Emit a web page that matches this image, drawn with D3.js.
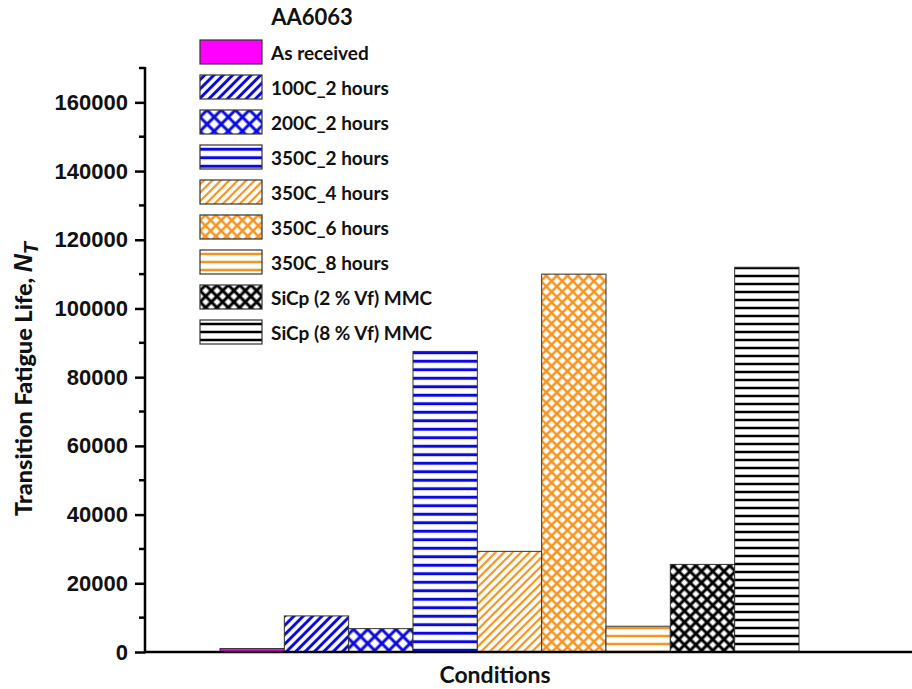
<!DOCTYPE html>
<html>
<head>
<meta charset="utf-8">
<script src="https://cdn.jsdelivr.net/npm/d3@7"></script>
<style>
  body { margin: 0; background: #fff; }
</style>
</head>
<body>
<div id="chart"></div>
<script>
// chart values
const conditions = ["As received", "100C_2 hours", "200C_2 hours", "350C_2 hours", "350C_4 hours",
    "350C_6 hours", "350C_8 hours", "SiCp (2 % Vf) MMC", "SiCp (8 % Vf) MMC"];
const lifeValues = [1000, 10500, 6800, 87500, 29300, 110000, 7500, 25500, 112000];
const yTicks = [0, 20000, 40000, 60000, 80000, 100000, 120000, 140000, 160000];
const yMinorTicks = [10000, 30000, 50000, 70000, 90000, 110000, 130000, 150000, 170000];

const width = 912, height = 689;
const plot = {left: 145, right: 912, top: 68, bottom: 652};

const blue = "#0a0ae0", orange = "#f7931e", black = "#000";

// fill style per condition (pattern type, colour, pattern size, stroke width)
const fills = [
    {type: "solid", color: "#ff00ff"},
    {type: "diag", color: blue, size: 6.6, sw: 3},
    {type: "cross", color: blue, size: 10, sw: 3},
    {type: "horiz", color: blue, size: 8.5, sw: 3},
    {type: "diag", color: orange, size: 6, sw: 2.2},
    {type: "cross", color: orange, size: 7.5, sw: 2.5},
    {type: "horiz", color: orange, size: 8, sw: 2.5},
    {type: "cross", color: black, size: 8, sw: 3},
    {type: "horiz", color: black, size: 8, sw: 2.5}
];

const svg = d3.select("#chart").append("svg")
    .attr("width", width)
    .attr("height", height);

const defs = svg.append("defs");

fills.forEach((f, i) => {
    if (f.type === "solid") return;
    const p = defs.append("pattern")
        .attr("id", "pat" + i)
        .attr("patternUnits", "userSpaceOnUse")
        .attr("width", f.size)
        .attr("height", f.size);
    if (f.type !== "horiz") p.attr("patternTransform", "rotate(45)");
    p.append("rect").attr("width", f.size).attr("height", f.size).attr("fill", "#fff");
    if (f.type === "diag" || f.type === "cross") {
        p.append("line")
            .attr("x1", f.size / 2).attr("x2", f.size / 2)
            .attr("y1", 0).attr("y2", f.size)
            .attr("stroke", f.color).attr("stroke-width", f.sw);
    }
    if (f.type === "horiz" || f.type === "cross") {
        p.append("line")
            .attr("x1", 0).attr("x2", f.size)
            .attr("y1", f.size / 2).attr("y2", f.size / 2)
            .attr("stroke", f.color).attr("stroke-width", f.sw);
    }
});

function fillOf(i) {
    return fills[i].type === "solid" ? fills[i].color : `url(#pat${i})`;
}

// scales
const x = d3.scaleBand()
    .domain(conditions)
    .range([220, 799])
    .paddingInner(0)
    .paddingOuter(0);

const y = d3.scaleLinear()
    .domain([0, 170000])
    .range([plot.bottom, plot.top]);

// bars
svg.append("g")
    .selectAll("rect")
    .data(conditions)
    .join("rect")
    .attr("x", d => x(d))
    .attr("y", (d, i) => y(lifeValues[i]))
    .attr("width", x.bandwidth())
    .attr("height", (d, i) => y(0) - y(lifeValues[i]))
    .attr("fill", (d, i) => fillOf(i))
    .attr("stroke", "#333")
    .attr("stroke-width", 1);

// y axis
const yAxis = svg.append("g")
    .attr("transform", `translate(${plot.left},0)`)
    .call(d3.axisLeft(y).tickValues(yTicks).tickSize(10).tickPadding(7).tickFormat(d3.format("d")));
yAxis.select(".domain").remove();
yAxis.selectAll(".tick line").attr("stroke", "#000").attr("stroke-width", 2.5);
yAxis.selectAll("text")
    .attr("fill", "#111")
    .style("font-family", "Arial, 'Liberation Sans', sans-serif")
    .style("font-weight", "bold")
    .style("font-size", "22px");

svg.append("g")
    .selectAll("line")
    .data(yMinorTicks)
    .join("line")
    .attr("x1", plot.left - 6).attr("x2", plot.left)
    .attr("y1", d => y(d)).attr("y2", d => y(d))
    .attr("stroke", "#000").attr("stroke-width", 2.5);

// axis lines
svg.append("line")
    .attr("x1", plot.left).attr("x2", plot.left)
    .attr("y1", y(170000) - 1).attr("y2", plot.bottom + 1.25)
    .attr("stroke", "#000").attr("stroke-width", 2.5);
svg.append("line")
    .attr("x1", plot.left).attr("x2", plot.right)
    .attr("y1", plot.bottom).attr("y2", plot.bottom)
    .attr("stroke", "#000").attr("stroke-width", 2.5);

// axis titles
const yTitle = svg.append("text")
    .attr("transform", "translate(32,379) rotate(-90)")
    .attr("text-anchor", "middle")
    .attr("fill", "#111")
    .style("font-family", "Lato, sans-serif")
    .style("font-weight", "900")
    .style("font-size", "23.5px");
yTitle.append("tspan").text("Transition Fatigue Life, ");
yTitle.append("tspan")
    .style("font-family", "Arial, 'Liberation Sans', sans-serif")
    .style("font-weight", "bold")
    .style("font-style", "italic").style("font-size", "25px").text("N");
yTitle.append("tspan")
    .style("font-family", "Arial, 'Liberation Sans', sans-serif")
    .style("font-weight", "bold")
    .style("font-style", "italic").style("font-size", "20px")
    .attr("dy", 6).text("T");

svg.append("text")
    .attr("x", 495).attr("y", 683)
    .attr("text-anchor", "middle")
    .attr("fill", "#111")
    .style("font-family", "Lato, sans-serif")
    .style("font-weight", "bold")
    .style("font-size", "23px")
    .text("Conditions");

// legend
svg.append("text")
    .attr("x", 312).attr("y", 25)
    .attr("text-anchor", "middle")
    .attr("fill", "#111")
    .style("font-family", "Lato, sans-serif")
    .style("font-weight", "bold")
    .style("font-size", "22px")
    .text("AA6063");

const legend = svg.append("g")
    .selectAll("g")
    .data(conditions)
    .join("g")
    .attr("transform", (d, i) => `translate(200,${40 + i * 35})`);

legend.append("rect")
    .attr("width", 62).attr("height", 24)
    .attr("fill", (d, i) => fillOf(i))
    .attr("stroke", "#333")
    .attr("stroke-width", 1.2);

legend.append("text")
    .attr("x", 71).attr("y", 20)
    .attr("fill", "#111")
    .style("font-family", "Lato, sans-serif")
    .style("font-weight", "bold")
    .style("font-size", "19px")
    .text(d => d);
</script>
</body>
</html>
